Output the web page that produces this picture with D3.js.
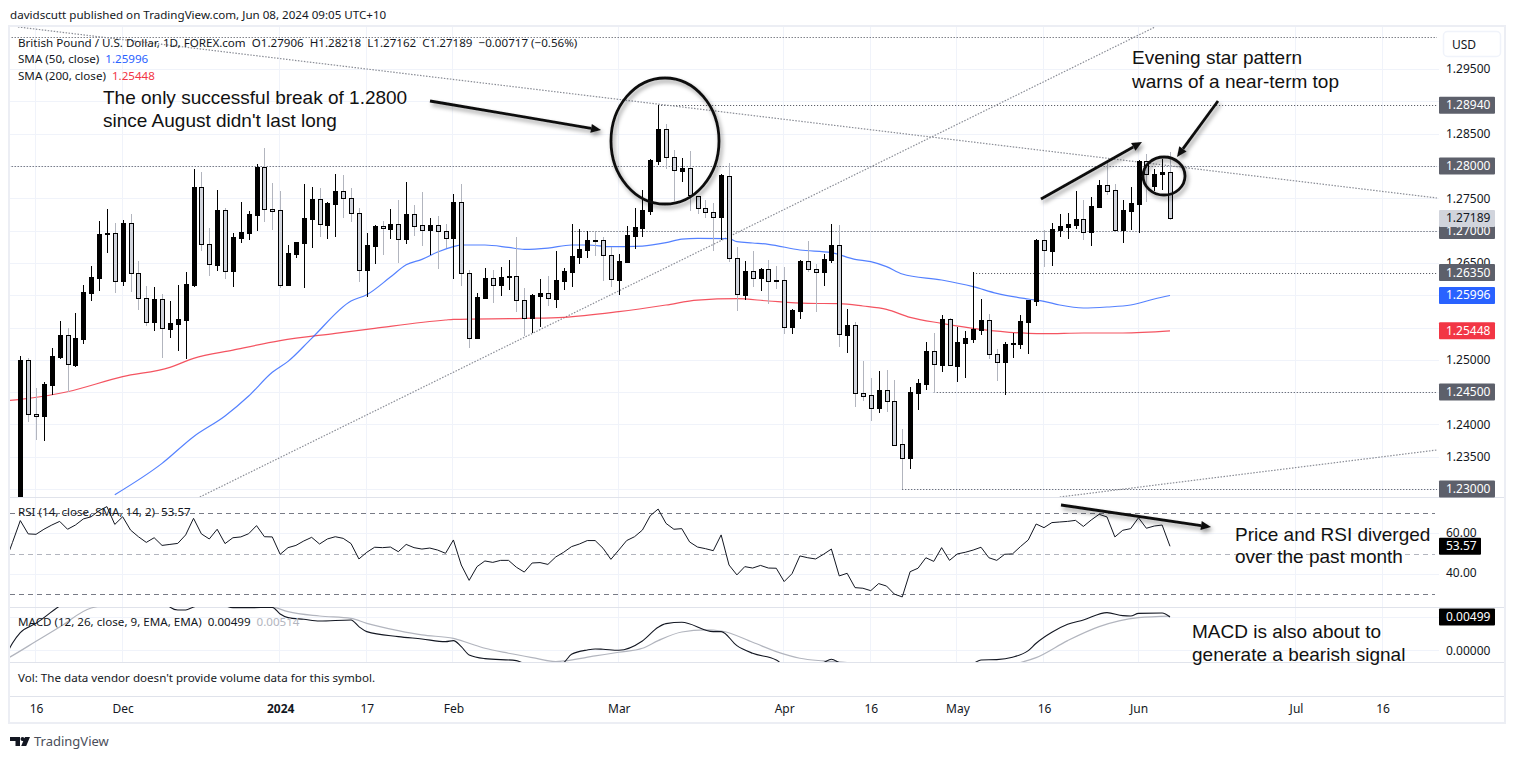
<!DOCTYPE html>
<html>
<head>
<meta charset="utf-8">
<style>
  html, body { margin: 0; padding: 0; background: #fff; }
  svg { display: block; }
  text { font-family: "Noto Sans", sans-serif; font-size: 11.6px; fill: #131722; }
  .axis text { font-size: 12px; }
  .note { font-family: "Liberation Sans", Arial, sans-serif; font-size: 19px; fill: #111; }
</style>
<script src="https://cdn.jsdelivr.net/npm/d3@7"></script>
</head>
<body>
<div id="chart"></div>
<script>
var opens = [
  1.22780, 1.24997, 1.24156, 1.24135, 1.24610, 1.25043, 1.25378, 1.24919, 1.25322, 1.26039,
  1.26271, 1.26947, 1.26957, 1.26225, 1.27112, 1.26338, 1.25951, 1.25590, 1.25936, 1.25482,
  1.25559, 1.25621, 1.26158, 1.27669, 1.26787, 1.26472, 1.27313, 1.26379, 1.26890, 1.26968,
  1.27246, 1.27979, 1.27329, 1.27313, 1.26163, 1.26643, 1.26813, 1.27184, 1.27484, 1.27092,
  1.27417, 1.27608, 1.27510, 1.27267, 1.26385, 1.26766, 1.27071, 1.27029, 1.27097, 1.26875,
  1.27251, 1.27081, 1.27014, 1.27081, 1.26988, 1.26880, 1.27437, 1.26338, 1.25337, 1.25956,
  1.26261, 1.26163, 1.26286, 1.26292, 1.25920, 1.25647, 1.25992, 1.26028, 1.25946, 1.26224,
  1.26364, 1.26596, 1.26704, 1.26849, 1.26849, 1.26617, 1.26240, 1.26519, 1.26921, 1.27045,
  1.27308, 1.28082, 1.28567, 1.28134, 1.27927, 1.27963, 1.27530, 1.27344, 1.27293, 1.27215,
  1.27850, 1.26570, 1.26008, 1.26374, 1.26271, 1.26401, 1.26230, 1.26230, 1.25513, 1.25761,
  1.26530, 1.26411, 1.26364, 1.26545, 1.26777, 1.25384, 1.25539, 1.24481, 1.24450, 1.24254,
  1.24527, 1.24357, 1.23692, 1.23485, 1.24491, 1.24631, 1.25136, 1.24925, 1.25627, 1.24909,
  1.25265, 1.25327, 1.25467, 1.25611, 1.25085, 1.24971, 1.25240, 1.25250, 1.25590, 1.25915,
  1.26849, 1.26689, 1.27009, 1.27061, 1.27086, 1.27174, 1.26983, 1.27360, 1.27706, 1.27623,
  1.27004, 1.27308, 1.27417, 1.28072, 1.27695, 1.27871, 1.27906
];
var highs = [
  1.25059, 1.25022, 1.24558, 1.24651, 1.25177, 1.25600, 1.25487, 1.25724, 1.26158, 1.26452,
  1.27148, 1.27334, 1.27112, 1.27164, 1.27257, 1.26529, 1.26142, 1.26127, 1.26018, 1.25910,
  1.26158, 1.26354, 1.27948, 1.27907, 1.27040, 1.27623, 1.27344, 1.26957, 1.27442, 1.27303,
  1.28031, 1.28273, 1.27737, 1.27613, 1.26777, 1.26818, 1.27721, 1.27675, 1.27659, 1.27442,
  1.27876, 1.27860, 1.27659, 1.27344, 1.26963, 1.27081, 1.27148, 1.27334, 1.27473, 1.27752,
  1.27396, 1.27597, 1.27195, 1.27226, 1.27102, 1.27566, 1.27716, 1.26390, 1.26034, 1.26421,
  1.26384, 1.26436, 1.26544, 1.26906, 1.26106, 1.26018, 1.26250, 1.26297, 1.26679, 1.26415,
  1.27102, 1.27019, 1.26993, 1.26973, 1.26895, 1.26751, 1.26632, 1.27071, 1.27355, 1.27628,
  1.28103, 1.28940, 1.28645, 1.28247, 1.28123, 1.28232, 1.27540, 1.27473, 1.27432, 1.27871,
  1.28041, 1.26751, 1.26529, 1.26684, 1.26415, 1.26545, 1.26452, 1.26437, 1.25786, 1.26545,
  1.26839, 1.26483, 1.26638, 1.27102, 1.27087, 1.25786, 1.25580, 1.24982, 1.24718, 1.24827,
  1.24842, 1.24687, 1.23929, 1.24579, 1.24703, 1.25276, 1.25415, 1.25694, 1.25640, 1.25508,
  1.25446, 1.26354, 1.25941, 1.25709, 1.25167, 1.25270, 1.25420, 1.25694, 1.25926, 1.26865,
  1.27009, 1.27112, 1.27257, 1.27272, 1.27613, 1.27473, 1.27515, 1.27783, 1.28067, 1.27721,
  1.27473, 1.27680, 1.28093, 1.28185, 1.27948, 1.28103, 1.28218
];
var lows = [
  1.22700, 1.24042, 1.23758, 1.23748, 1.24455, 1.25012, 1.24496, 1.24893, 1.25249, 1.25910,
  1.26065, 1.26658, 1.26039, 1.26147, 1.26054, 1.25771, 1.25523, 1.25451, 1.25033, 1.25337,
  1.25141, 1.25017, 1.26132, 1.26689, 1.26302, 1.26379, 1.26256, 1.26132, 1.26803, 1.26854,
  1.26999, 1.27138, 1.27009, 1.26116, 1.26163, 1.26576, 1.26116, 1.26730, 1.26901, 1.26875,
  1.26906, 1.27195, 1.27133, 1.26209, 1.25977, 1.26483, 1.26622, 1.26869, 1.26503, 1.26797,
  1.26921, 1.26766, 1.26627, 1.26405, 1.26735, 1.26255, 1.26142, 1.25187, 1.25321, 1.25941,
  1.25874, 1.25992, 1.26075, 1.25745, 1.25368, 1.25414, 1.25512, 1.25832, 1.25801, 1.26080,
  1.26132, 1.26488, 1.26581, 1.26611, 1.26224, 1.26121, 1.26008, 1.26519, 1.26720, 1.26906,
  1.27246, 1.28020, 1.27958, 1.27463, 1.27757, 1.27308, 1.27256, 1.27189, 1.26689, 1.26854,
  1.26519, 1.25760, 1.25925, 1.26132, 1.26070, 1.25864, 1.26096, 1.25399, 1.25399, 1.25632,
  1.26359, 1.25745, 1.26143, 1.26504, 1.25198, 1.25105, 1.24275, 1.24362, 1.24053, 1.24182,
  1.24197, 1.23671, 1.22995, 1.23315, 1.24223, 1.24533, 1.24491, 1.24811, 1.24900, 1.24656,
  1.24718, 1.25260, 1.25384, 1.25012, 1.24672, 1.24460, 1.25033, 1.25167, 1.25090, 1.25838,
  1.26442, 1.26457, 1.26906, 1.26875, 1.27019, 1.26854, 1.26766, 1.27345, 1.27551, 1.26994,
  1.26813, 1.27009, 1.26957, 1.27448, 1.27613, 1.27628, 1.27162
];
var closes = [
  1.24997, 1.24156, 1.24135, 1.24620, 1.25053, 1.25384, 1.24930, 1.25332, 1.26044, 1.26281,
  1.26942, 1.26957, 1.26225, 1.27112, 1.26338, 1.25951, 1.25590, 1.25936, 1.25487, 1.25564,
  1.25626, 1.26168, 1.27669, 1.26787, 1.26478, 1.27313, 1.26379, 1.26895, 1.26973, 1.27252,
  1.27979, 1.27329, 1.27308, 1.26163, 1.26648, 1.26818, 1.27190, 1.27484, 1.27097, 1.27427,
  1.27608, 1.27510, 1.27267, 1.26385, 1.26772, 1.27066, 1.27035, 1.27097, 1.26875, 1.27251,
  1.27076, 1.27014, 1.27081, 1.26988, 1.26880, 1.27437, 1.26338, 1.25342, 1.25966, 1.26261,
  1.26163, 1.26276, 1.26297, 1.25920, 1.25652, 1.26003, 1.26028, 1.25951, 1.26230, 1.26369,
  1.26606, 1.26715, 1.26854, 1.26839, 1.26617, 1.26245, 1.26524, 1.26931, 1.27055, 1.27313,
  1.28087, 1.28567, 1.28134, 1.27932, 1.27963, 1.27551, 1.27344, 1.27293, 1.27215, 1.27860,
  1.26570, 1.26013, 1.26374, 1.26271, 1.26405, 1.26225, 1.26220, 1.25513, 1.25771, 1.26530,
  1.26411, 1.26364, 1.26560, 1.26777, 1.25394, 1.25539, 1.24481, 1.24445, 1.24259, 1.24527,
  1.24357, 1.23686, 1.23485, 1.24496, 1.24636, 1.25136, 1.24930, 1.25627, 1.24914, 1.25270,
  1.25332, 1.25472, 1.25611, 1.25085, 1.24971, 1.25240, 1.25255, 1.25596, 1.25926, 1.26849,
  1.26695, 1.27024, 1.27071, 1.27102, 1.27174, 1.26983, 1.27375, 1.27706, 1.27618, 1.27004,
  1.27319, 1.27422, 1.28072, 1.27871, 1.27871, 1.27902, 1.27189
];

var sma50Days = [12, 18, 22, 26, 29, 32, 34, 37, 42, 44, 47, 49, 51, 53, 55, 56, 59, 62, 64, 67, 70, 72, 75, 79, 82, 84, 86, 90, 91, 93, 95, 99, 103, 106, 108, 110, 112, 117, 121, 124, 128, 130, 132, 135, 138, 141, 144, 146];
var sma50 = [1.22912, 1.23397, 1.23810, 1.24130, 1.24439, 1.24806, 1.24976, 1.25332, 1.25910, 1.26008, 1.26281, 1.26472, 1.26555, 1.26668, 1.26751, 1.26777, 1.26777, 1.26740, 1.26710, 1.26730, 1.26777, 1.26777, 1.26751, 1.26761, 1.26813, 1.26869, 1.26880, 1.26875, 1.26828, 1.26808, 1.26788, 1.26700, 1.26659, 1.26555, 1.26519, 1.26442, 1.26328, 1.26235, 1.26132, 1.26029, 1.25941, 1.25905, 1.25848, 1.25802, 1.25817, 1.25848, 1.25941, 1.25996];
var sma200Days = [-2, 0, 6, 13, 19, 22, 27, 33, 40, 45, 54, 55, 64, 69, 76, 82, 86, 91, 95, 100, 104, 107, 110, 113, 117, 122, 128, 130, 135, 140, 146];
var sma200 = [1.24362, 1.24388, 1.24506, 1.24739, 1.24883, 1.25022, 1.25151, 1.25296, 1.25409, 1.25487, 1.25616, 1.25626, 1.25641, 1.25657, 1.25745, 1.25848, 1.25925, 1.25946, 1.25910, 1.25874, 1.25869, 1.25833, 1.25781, 1.25657, 1.25565, 1.25472, 1.25410, 1.25405, 1.25415, 1.25415, 1.25448];

// rsi starts two bars left of the first candle so it runs off the pane edge
var rsiValues = [
  44.8, 55.4,
  66.3, 59.7, 59.5, 62.0, 64.1, 65.9, 62.0, 64.1, 67.1, 68.2,
  71.2, 73.2, 64.4, 68.2, 61.6, 58.3, 55.5, 57.8, 54.0, 54.5,
  55.0, 59.2, 67.4, 59.7, 57.2, 62.0, 54.9, 57.8, 58.2, 59.8,
  63.8, 58.3, 58.2, 49.6, 52.9, 54.0, 56.2, 58.0, 54.7, 57.2,
  58.3, 57.5, 54.9, 47.3, 50.6, 53.1, 52.9, 53.2, 50.9, 54.5,
  52.9, 52.2, 52.7, 51.7, 50.1, 56.7, 44.3, 36.7, 43.5, 46.3,
  45.6, 46.6, 46.6, 43.2, 40.8, 45.3, 45.5, 44.6, 48.3, 50.6,
  53.4, 54.7, 56.4, 56.4, 52.6, 47.1, 51.7, 56.4, 58.3, 61.6,
  68.7, 72.0, 64.9, 62.0, 62.3, 55.7, 53.2, 52.4, 51.4, 59.2,
  44.3, 39.4, 43.5, 42.8, 44.1, 42.8, 42.7, 36.1, 40.0, 48.8,
  47.9, 47.3, 49.6, 52.2, 38.9, 40.2, 33.1, 32.8, 31.6, 35.1,
  33.9, 29.9, 28.5, 41.0, 42.7, 47.9, 46.1, 52.9, 46.6, 49.8,
  50.6, 51.7, 53.1, 47.9, 46.6, 49.6, 49.8, 53.4, 56.7, 64.6,
  62.8, 65.3, 65.6, 65.9, 66.4, 63.4, 66.6, 69.4, 68.1, 58.2,
  61.5, 62.3, 67.7, 62.5, 63.6, 64.1, 53.57
];

var macdDays = [-2, -1, 0, 2, 5, 12, 18, 19, 20, 21, 22, 25, 27, 29, 32, 33, 34, 36, 38, 42, 43, 44, 48, 51, 54, 55, 56, 57, 59, 63, 64, 68, 69, 70, 72, 73, 74, 76, 79, 81, 82, 84, 88, 89, 91, 93, 96, 97, 100, 102, 103, 104, 107, 112, 116, 121, 122, 124, 126, 128, 129, 131, 133, 135, 138, 140, 141, 142, 145, 146];
var macdLine = [-0.00120, 0.00105, 0.00265, 0.00405, 0.00665, 0.01000, 0.00900, 0.00650, 0.00605, 0.00605, 0.00650, 0.00705, 0.00640, 0.00640, 0.00645, 0.00545, 0.00490, 0.00465, 0.00440, 0.00455, 0.00355, 0.00280, 0.00205, 0.00170, 0.00130, 0.00145, 0.00055, -0.00070, -0.00125, -0.00155, -0.00195, -0.00220, -0.00185, -0.00060, 0.00005, 0.00020, 0.00015, 0.00000, 0.00140, 0.00345, 0.00400, 0.00420, 0.00280, 0.00280, 0.00070, -0.00045, -0.00145, -0.00220, -0.00270, -0.00185, -0.00135, -0.00185, -0.00320, -0.00370, -0.00270, -0.00195, -0.00145, -0.00140, -0.00105, -0.00005, 0.00105, 0.00270, 0.00390, 0.00455, 0.00565, 0.00520, 0.00515, 0.00555, 0.00560, 0.00499];
var signalDays = [-2, -1, 2, 5, 9, 15, 25, 32, 34, 38, 42, 44, 48, 51, 55, 57, 59, 62, 65, 68, 69, 73, 76, 79, 81, 84, 87, 89, 93, 96, 99, 102, 105, 110, 115, 122, 127, 129, 133, 137, 142, 146];
var signalLine = [-0.00145, -0.00080, 0.00135, 0.00350, 0.00635, 0.00730, 0.00740, 0.00655, 0.00580, 0.00515, 0.00480, 0.00405, 0.00295, 0.00230, 0.00180, 0.00105, 0.00030, -0.00045, -0.00110, -0.00170, -0.00160, -0.00085, -0.00030, 0.00030, 0.00145, 0.00275, 0.00305, 0.00290, 0.00120, -0.00020, -0.00120, -0.00160, -0.00185, -0.00270, -0.00320, -0.00295, -0.00185, -0.00110, 0.00145, 0.00355, 0.00490, 0.00514];

var priceGrid = [1.23, 1.235, 1.24, 1.245, 1.25, 1.255, 1.26, 1.265, 1.27, 1.275, 1.28, 1.285, 1.29, 1.295];
// labels that the badges hide completely are left out
var priceTicks = [1.235, 1.24, 1.25, 1.265, 1.275, 1.285, 1.29, 1.295];
var rsiTicks = [60, 40];
var rsiBands = [70, 50, 30];
var macdTicks = [0.005, 0];
var timeDays = [2, 13, 33, 44, 55, 76, 97, 108, 119, 130, 142, 162, 173];
var timeLabels = ['16', 'Dec', '2024', '17', 'Feb', 'Mar', 'Apr', '16', 'May', '16', 'Jun', 'Jul', '16'];

// dotted levels from the drawing tools: price, first bar
var levelPrices = [1.3, 1.2894, 1.28, 1.27, 1.2635, 1.245, 1.23];
var levelStarts = [-3, 81, -3, 70, 121, 116, 112];
// sloped dotted trend lines: [day, price, day, price]
var trendLines = [
  [-0.3, 1.30152, 179.9, 1.27505],
  [22.8, 1.22876, 144.1, 1.30152],
  [132, 1.22876, 179.9, 1.23604]
];
var priceBadges = [
  { value: 1.2894, fill: '#5d606b', text: '#fff' },
  { value: 1.28, fill: '#5d606b', text: '#fff' },
  { value: 1.27, fill: '#5d606b', text: '#fff' },
  { value: 1.27189, fill: '#d1d4dc', text: '#131722' },
  { value: 1.2635, fill: '#5d606b', text: '#fff' },
  { value: 1.25996, fill: '#2962ff', text: '#fff' },
  { value: 1.25448, fill: '#f23645', text: '#fff' },
  { value: 1.245, fill: '#5d606b', text: '#fff' },
  { value: 1.23, fill: '#5d606b', text: '#fff' }
];

var width = 1515, height = 759;
var left = 10, right = 1437;
var priceTop = 27, priceBottom = 497, rsiBottom = 607, macdBottom = 662, volBottom = 696, frameBottom = 723;

var x = d3.scaleLinear().domain([0, 146]).range([20.3, 1170]);
var y = d3.scaleLinear().domain([1.23, 1.28]).range([489, 166]);
var yRsi = d3.scaleLinear().domain([30, 70]).range([593.9, 513.1]);
var yMacd = d3.scaleLinear().domain([-0.00176, 0.0065]).range([662, 607]);

var svg = d3.select('#chart').append('svg').attr('width', width).attr('height', height);
var defs = svg.append('defs');

function addClip(id, top, bottom) {
  defs.append('clipPath').attr('id', id).append('rect')
    .attr('x', left).attr('y', top).attr('width', right - left + 2).attr('height', bottom - top);
}
addClip('clipPrice', priceTop, priceBottom);
addClip('clipRsi', priceBottom, rsiBottom);
addClip('clipMacd', rsiBottom, macdBottom);

var shadow = defs.append('filter').attr('id', 'shadow')
  .attr('x', '-20%').attr('y', '-50%').attr('width', '140%').attr('height', '250%');
shadow.append('feDropShadow').attr('dx', 2).attr('dy', 3).attr('stdDeviation', 2)
  .attr('flood-color', '#000').attr('flood-opacity', 0.4);

svg.append('text').attr('x', 10).attr('y', 19).text('davidscutt published on TradingView.com, Jun 08, 2024 09:05 UTC+10');

// grid
function hGrid(values, scale, clip) {
  svg.append('g').attr('clip-path', 'url(#' + clip + ')').selectAll('line').data(values).enter().append('line')
    .attr('x1', left).attr('x2', right + 2)
    .attr('y1', function(d) { return Math.round(scale(d)) + 0.5 })
    .attr('y2', function(d) { return Math.round(scale(d)) + 0.5 })
    .attr('stroke', '#f0f3fa');
}
hGrid(priceGrid, y, 'clipPrice');
hGrid(rsiTicks, yRsi, 'clipRsi');
hGrid(macdTicks, yMacd, 'clipMacd');

svg.append('g').selectAll('line').data(timeDays).enter().append('line')
  .attr('x1', function(d) { return Math.round(x(d)) - 0.5 })
  .attr('x2', function(d) { return Math.round(x(d)) - 0.5 })
  .attr('y1', priceTop).attr('y2', macdBottom)
  .attr('stroke', '#f0f3fa');

// frame and pane separators
[priceBottom, rsiBottom, macdBottom, volBottom].forEach(function(p) {
  svg.append('line').attr('x1', left).attr('x2', 1505).attr('y1', p + 0.5).attr('y2', p + 0.5)
    .attr('stroke', '#e0e3eb');
});
svg.append('rect').attr('x', left - 1).attr('y', priceTop - 1)
  .attr('width', 1505 - left + 1).attr('height', frameBottom - priceTop + 1)
  .attr('fill', 'none').attr('stroke', '#eceef4').attr('stroke-width', 2);

// dotted levels and trend lines
var priceLayer = svg.append('g').attr('clip-path', 'url(#clipPrice)');
priceLayer.selectAll('.level').data(levelPrices).enter().append('line')
  .attr('class', 'level')
  .attr('x1', function(d, i) { return x(levelStarts[i]) })
  .attr('x2', right)
  .attr('y1', function(d) { return Math.round(y(d)) + 0.5 })
  .attr('y2', function(d) { return Math.round(y(d)) + 0.5 })
  .attr('stroke', '#434651').attr('stroke-dasharray', '1,2');
priceLayer.selectAll('.trend').data(trendLines).enter().append('line')
  .attr('class', 'trend')
  .attr('x1', function(d) { return x(d[0]) })
  .attr('y1', function(d) { return y(d[1]) })
  .attr('x2', function(d) { return x(d[2]) })
  .attr('y2', function(d) { return y(d[3]) })
  .attr('stroke', '#8a8d96').attr('stroke-width', 1.2).attr('stroke-dasharray', '1.5,1.5');

// sma lines
var smaLine = d3.line().x(function(d) { return x(d[0]) }).y(function(d) { return y(d[1]) }).curve(d3.curveMonotoneX);
priceLayer.append('path').attr('d', smaLine(d3.zip(sma200Days, sma200)))
  .attr('fill', 'none').attr('stroke', '#f23645').attr('stroke-width', 1.2).attr('opacity', 0.85);
priceLayer.append('path').attr('d', smaLine(d3.zip(sma50Days, sma50)))
  .attr('fill', 'none').attr('stroke', '#2962ff').attr('stroke-width', 1.2).attr('opacity', 0.8);

// candles
var candles = priceLayer.selectAll('.candle').data(d3.range(opens.length)).enter().append('g').attr('class', 'candle');
candles.append('line')
  .attr('x1', function(i) { return Math.round(x(i)) + 0.5 })
  .attr('x2', function(i) { return Math.round(x(i)) + 0.5 })
  .attr('y1', function(i) { return y(highs[i]) })
  .attr('y2', function(i) { return y(lows[i]) })
  .attr('stroke', function(i) { return closes[i] < opens[i] ? '#b2b5be' : '#000' })
  .attr('shape-rendering', 'crispEdges');
candles.append('rect')
  .attr('x', function(i) { return Math.round(x(i)) - 1.5 })
  .attr('width', 4)
  .attr('y', function(i) { return Math.round(y(Math.max(opens[i], closes[i]))) + 0.5 })
  .attr('height', function(i) { return Math.max(1, Math.round(y(Math.min(opens[i], closes[i]))) - Math.round(y(Math.max(opens[i], closes[i])))) })
  .attr('fill', function(i) { return closes[i] < opens[i] ? '#d1d4dc' : '#000' })
  .attr('stroke', '#000')
  .attr('shape-rendering', 'crispEdges');

// rsi
var rsiLayer = svg.append('g').attr('clip-path', 'url(#clipRsi)');
rsiLayer.selectAll('.band').data(rsiBands).enter().append('line')
  .attr('class', 'band').attr('x1', left).attr('x2', right - 2)
  .attr('y1', function(d) { return Math.round(yRsi(d)) + 0.5 })
  .attr('y2', function(d) { return Math.round(yRsi(d)) + 0.5 })
  .attr('stroke', function(d) { return d === 50 ? '#b2b5be' : '#787b86' })
  .attr('stroke-dasharray', '5,4');
var rsiPath = d3.line().x(function(d, i) { return x(i - 2) }).y(function(d) { return yRsi(d) });
rsiLayer.append('path').attr('d', rsiPath(rsiValues)).attr('fill', 'none').attr('stroke', '#131722').attr('stroke-width', 1);

// macd
var macdLayer = svg.append('g').attr('clip-path', 'url(#clipMacd)');
var macdPath = d3.line().x(function(d) { return x(d[0]) }).y(function(d) { return yMacd(d[1]) }).curve(d3.curveMonotoneX);
macdLayer.append('path').attr('d', macdPath(d3.zip(signalDays, signalLine))).attr('fill', 'none').attr('stroke', '#b2b5be').attr('stroke-width', 1.2);
macdLayer.append('path').attr('d', macdPath(d3.zip(macdDays, macdLine))).attr('fill', 'none').attr('stroke', '#131722').attr('stroke-width', 1.1);

// legends
svg.append('text').attr('x', 18).attr('y', 47).attr('xml:space', 'preserve')
  .text('British Pound / U.S. Dollar, 1D, FOREX.com  O1.27906  H1.28218  L1.27162  C1.27189  \u22120.00717 (\u22120.56%)');
var l50 = svg.append('text').attr('x', 18).attr('y', 63).attr('xml:space', 'preserve');
l50.append('tspan').text('SMA (50, close)  ');
l50.append('tspan').text('1.25996').style('fill', '#2962ff');
var l200 = svg.append('text').attr('x', 18).attr('y', 80).attr('xml:space', 'preserve');
l200.append('tspan').text('SMA (200, close)  ');
l200.append('tspan').text('1.25448').style('fill', '#f23645');
svg.append('text').attr('x', 18).attr('y', 516).attr('xml:space', 'preserve').text('RSI (14, close, SMA, 14, 2)  53.57');
var lm = svg.append('text').attr('x', 18).attr('y', 626).attr('xml:space', 'preserve');
lm.append('tspan').text('MACD (12, 26, close, 9, EMA, EMA)  0.00499  ');
lm.append('tspan').text('0.00514').style('fill', '#b2b5be');
svg.append('text').attr('x', 18).attr('y', 682).text("Vol: The data vendor doesn't provide volume data for this symbol.");

// axes
function styleAxis(g) {
  g.attr('class', 'axis');
  g.select('.domain').remove();
  g.selectAll('.tick line').remove();
  g.selectAll('text').attr('font-family', null).attr('font-size', null);
  return g;
}
var priceAxis = d3.axisRight(y).tickValues(priceTicks).tickFormat(d3.format('.5f')).tickSize(0).tickPadding(0);
svg.append('g').attr('transform', 'translate(1446,0)').call(priceAxis).call(styleAxis);
var rsiAxis = d3.axisRight(yRsi).tickValues(rsiTicks).tickFormat(d3.format('.2f')).tickSize(0).tickPadding(0);
svg.append('g').attr('transform', 'translate(1446,-1)').call(rsiAxis).call(styleAxis);
var macdAxis = d3.axisRight(yMacd).tickValues([0]).tickFormat(d3.format('.5f')).tickSize(0).tickPadding(0);
svg.append('g').attr('transform', 'translate(1446,0)').call(macdAxis).call(styleAxis);
var timeAxis = d3.axisBottom(x).tickValues(timeDays).tickFormat(function(d, i) { return timeLabels[i] }).tickSize(0).tickPadding(0);
var timeG = svg.append('g').attr('transform', 'translate(0,704)').call(timeAxis).call(styleAxis);
timeG.selectAll('text').style('font-weight', function(d, i) { return timeLabels[i] === '2024' ? 700 : 400 });

// badges on the price scale
function badge(cy, w, fill, color, label) {
  svg.append('rect').attr('x', 1439).attr('y', cy - 8.5).attr('width', w).attr('height', 17).attr('rx', 1).attr('fill', fill);
  svg.append('text').attr('x', 1446).attr('y', cy + 4).text(label).style('fill', color).style('font-size', '12px');
}
priceBadges.forEach(function(b) {
  badge(y(b.value), 56, b.fill, b.text, d3.format('.5f')(b.value));
});
badge(yRsi(53.57), 42, '#000', '#fff', '53.57');
badge(yMacd(0.00499), 56, '#000', '#fff', '0.00499');

svg.append('rect').attr('x', 1443.5).attr('y', 31.5).attr('width', 57).attr('height', 25).attr('rx', 4)
  .attr('fill', '#fff').attr('stroke', '#f0f3fa').attr('stroke-width', 1.5);
svg.append('text').attr('x', 1452).attr('y', 49).text('USD').style('font-size', '12px');

// hand drawn notes
var notes = [
  ['The only successful break of 1.2800', 103, 104],
  ["since August didn't last long", 103, 127],
  ['Evening star pattern', 1132, 64],
  ['warns of a near-term top', 1132, 88],
  ['Price and RSI diverged', 1235, 541],
  ['over the past month', 1235, 563],
  ['MACD is also about to', 1192, 638],
  ['generate a bearish signal', 1192, 661]
];
svg.selectAll('.note').data(notes).enter().append('text').attr('class', 'note')
  .attr('x', function(d) { return d[1] }).attr('y', function(d) { return d[2] }).text(function(d) { return d[0] });

var circles = [[665, 141, 54, 63], [1164, 176, 21, 19]];
svg.selectAll('.ring').data(circles).enter().append('ellipse').attr('class', 'ring')
  .attr('cx', function(d) { return d[0] }).attr('cy', function(d) { return d[1] })
  .attr('rx', function(d) { return d[2] }).attr('ry', function(d) { return d[3] })
  .attr('fill', 'none').attr('stroke', '#111').attr('stroke-width', 2.8)
  .attr('filter', 'url(#shadow)');

var arrows = [[430, 101, 601, 130], [1041, 199, 1142, 142], [1218, 101, 1177, 157], [1061, 505, 1211, 527]];
arrows.forEach(function(a) {
  var ang = Math.atan2(a[3] - a[1], a[2] - a[0]);
  var len = 10, half = 4.5;
  var bx = a[2] - len * Math.cos(ang), by = a[3] - len * Math.sin(ang);
  var head = [
    [a[2], a[3]],
    [bx + half * Math.sin(ang), by - half * Math.cos(ang)],
    [bx - half * Math.sin(ang), by + half * Math.cos(ang)]
  ];
  var g = svg.append('g').attr('filter', 'url(#shadow)');
  g.append('line').attr('x1', a[0]).attr('y1', a[1]).attr('x2', bx).attr('y2', by)
    .attr('stroke', '#111').attr('stroke-width', 2.8);
  g.append('polygon').attr('points', head.join(' ')).attr('fill', '#111');
});

// logo and footer
svg.append('path').attr('fill', '#131722')
  .attr('d', 'M10 737h10v9h-4.5v-5H10z M22.5 737a2 2 0 1 1 0 4 2 2 0 0 1 0-4z M25 737h5l-3.8 9h-5z');
svg.append('text').attr('x', 34).attr('y', 746).text('TradingView').style('font-size', '13px').style('fill', '#4a4e5a');
</script>
</body>
</html>
